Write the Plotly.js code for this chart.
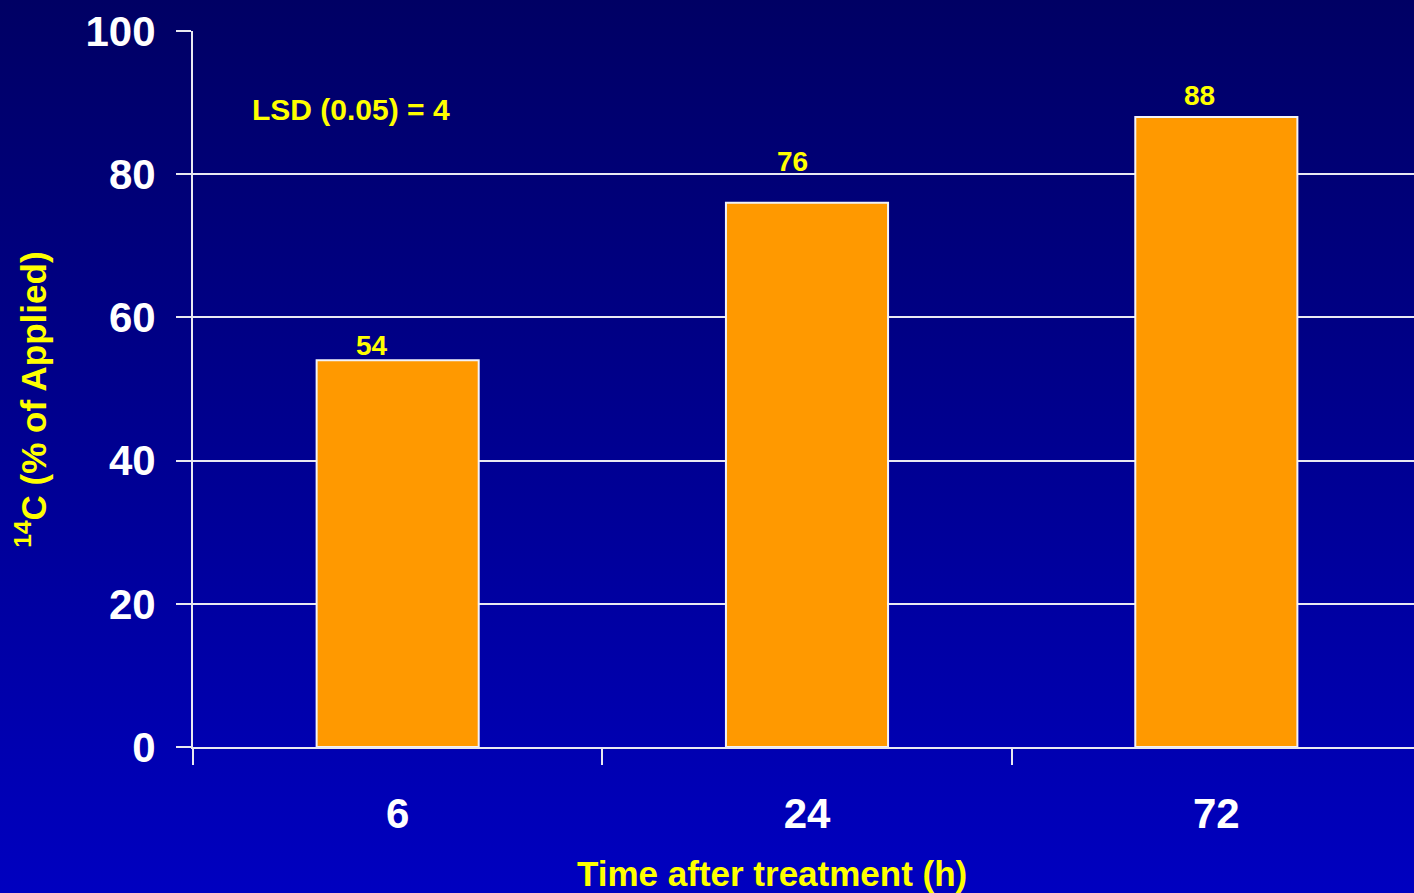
<!DOCTYPE html>
<html>
<head>
<meta charset="utf-8">
<script src="https://cdn.plot.ly/plotly-3.0.1.min.js"></script>
<style>
  html, body { margin: 0; padding: 0; width: 1414px; height: 893px; overflow: hidden;
    background: linear-gradient(to bottom, #000064 0%, #00008c 45%, #0000c0 100%); }
  #chart { width: 1421px; height: 893px; }
</style>
</head>
<body>
<div id="chart"></div>
<script>
const categories = ['6', '24', '72'];
const values = [54, 76, 88];
const valueLabels = ['54', '76', '88'];
const yTickValues = [0, 20, 40, 60, 80, 100];
const lsdText = 'LSD (0.05) = 4';
const xTitle = 'Time after treatment (h)';
const yTitle = '<sup>14</sup>C (% of Applied)';

const labelXShift = [-26, -15, -17];
const labelYShift = [-3, 24, 4];

const FONT = 'Liberation Sans, Arial, Helvetica, sans-serif';

const trace = {
  type: 'bar',
  x: categories,
  y: values,
  marker: { color: '#ff9900', line: { color: '#f2f2f8', width: 2 } },
  hoverinfo: 'x+y'
};

const annotations = values.map((v, i) => ({
  x: i, y: v, xref: 'x', yref: 'y',
  text: valueLabels[i], showarrow: false,
  xanchor: 'center', yanchor: 'bottom',
  xshift: labelXShift[i], yshift: labelYShift[i],
  font: { family: FONT, size: 28, weight: 'bold', color: '#ffff00' }
}));
annotations.push({
  xref: 'paper', yref: 'paper', x: 0.1287, y: 0.891,
  text: lsdText, showarrow: false, xanchor: 'center', yanchor: 'middle',
  font: { family: FONT, size: 30, weight: 'bold', color: '#ffff00' }
});
// axis titles (placed as in the reference)
annotations.push({
  xref: 'paper', yref: 'paper', x: 0.4715, y: -0.176,
  text: xTitle, showarrow: false, xanchor: 'center', yanchor: 'middle',
  font: { family: FONT, size: 35, weight: 'bold', color: '#ffff00' }
});
annotations.push({
  xref: 'paper', yref: 'paper', x: -0.1320, y: 0.485,
  text: yTitle, showarrow: false, textangle: -90,
  xanchor: 'center', yanchor: 'middle',
  font: { family: FONT, size: 35, weight: 'bold', color: '#ffff00' }
});

const layout = {
  width: 1421, height: 893,
  margin: { l: 193, r: 0, t: 31, b: 146, pad: 0 },
  paper_bgcolor: 'rgba(0,0,0,0)',
  plot_bgcolor: 'rgba(0,0,0,0)',
  showlegend: false,
  bargap: 0.604,
  xaxis: {
    type: 'category',
    categoryarray: categories, categoryorder: 'array',
    range: [-0.5, categories.length - 0.5],
    tickson: 'boundaries',
    tickangle: 0,
    ticks: 'outside', ticklen: 16, tickwidth: 2, tickcolor: '#e8e8f0',
    showline: true, linecolor: '#e8e8f0', linewidth: 2,
    showgrid: false, zeroline: false,
    ticklabelstandoff: 29,
    tickfont: { family: FONT, size: 42, weight: 'bold', color: '#ffffff' },
    fixedrange: true
  },
  yaxis: {
    range: [0, 100],
    tickvals: yTickValues,
    ticks: 'outside', ticklen: 15, tickwidth: 2, tickcolor: '#e8e8f0',
    showline: true, linecolor: '#e8e8f0', linewidth: 2,
    showgrid: true, gridcolor: '#e8e8f2', gridwidth: 2,
    zeroline: false,
    ticklabelstandoff: 12,
    tickfont: { family: FONT, size: 42, weight: 'bold', color: '#ffffff' },
    fixedrange: true
  },
  annotations: annotations
};

Plotly.newPlot('chart', [trace], layout, { displayModeBar: false, staticPlot: true });
</script>
</body>
</html>
